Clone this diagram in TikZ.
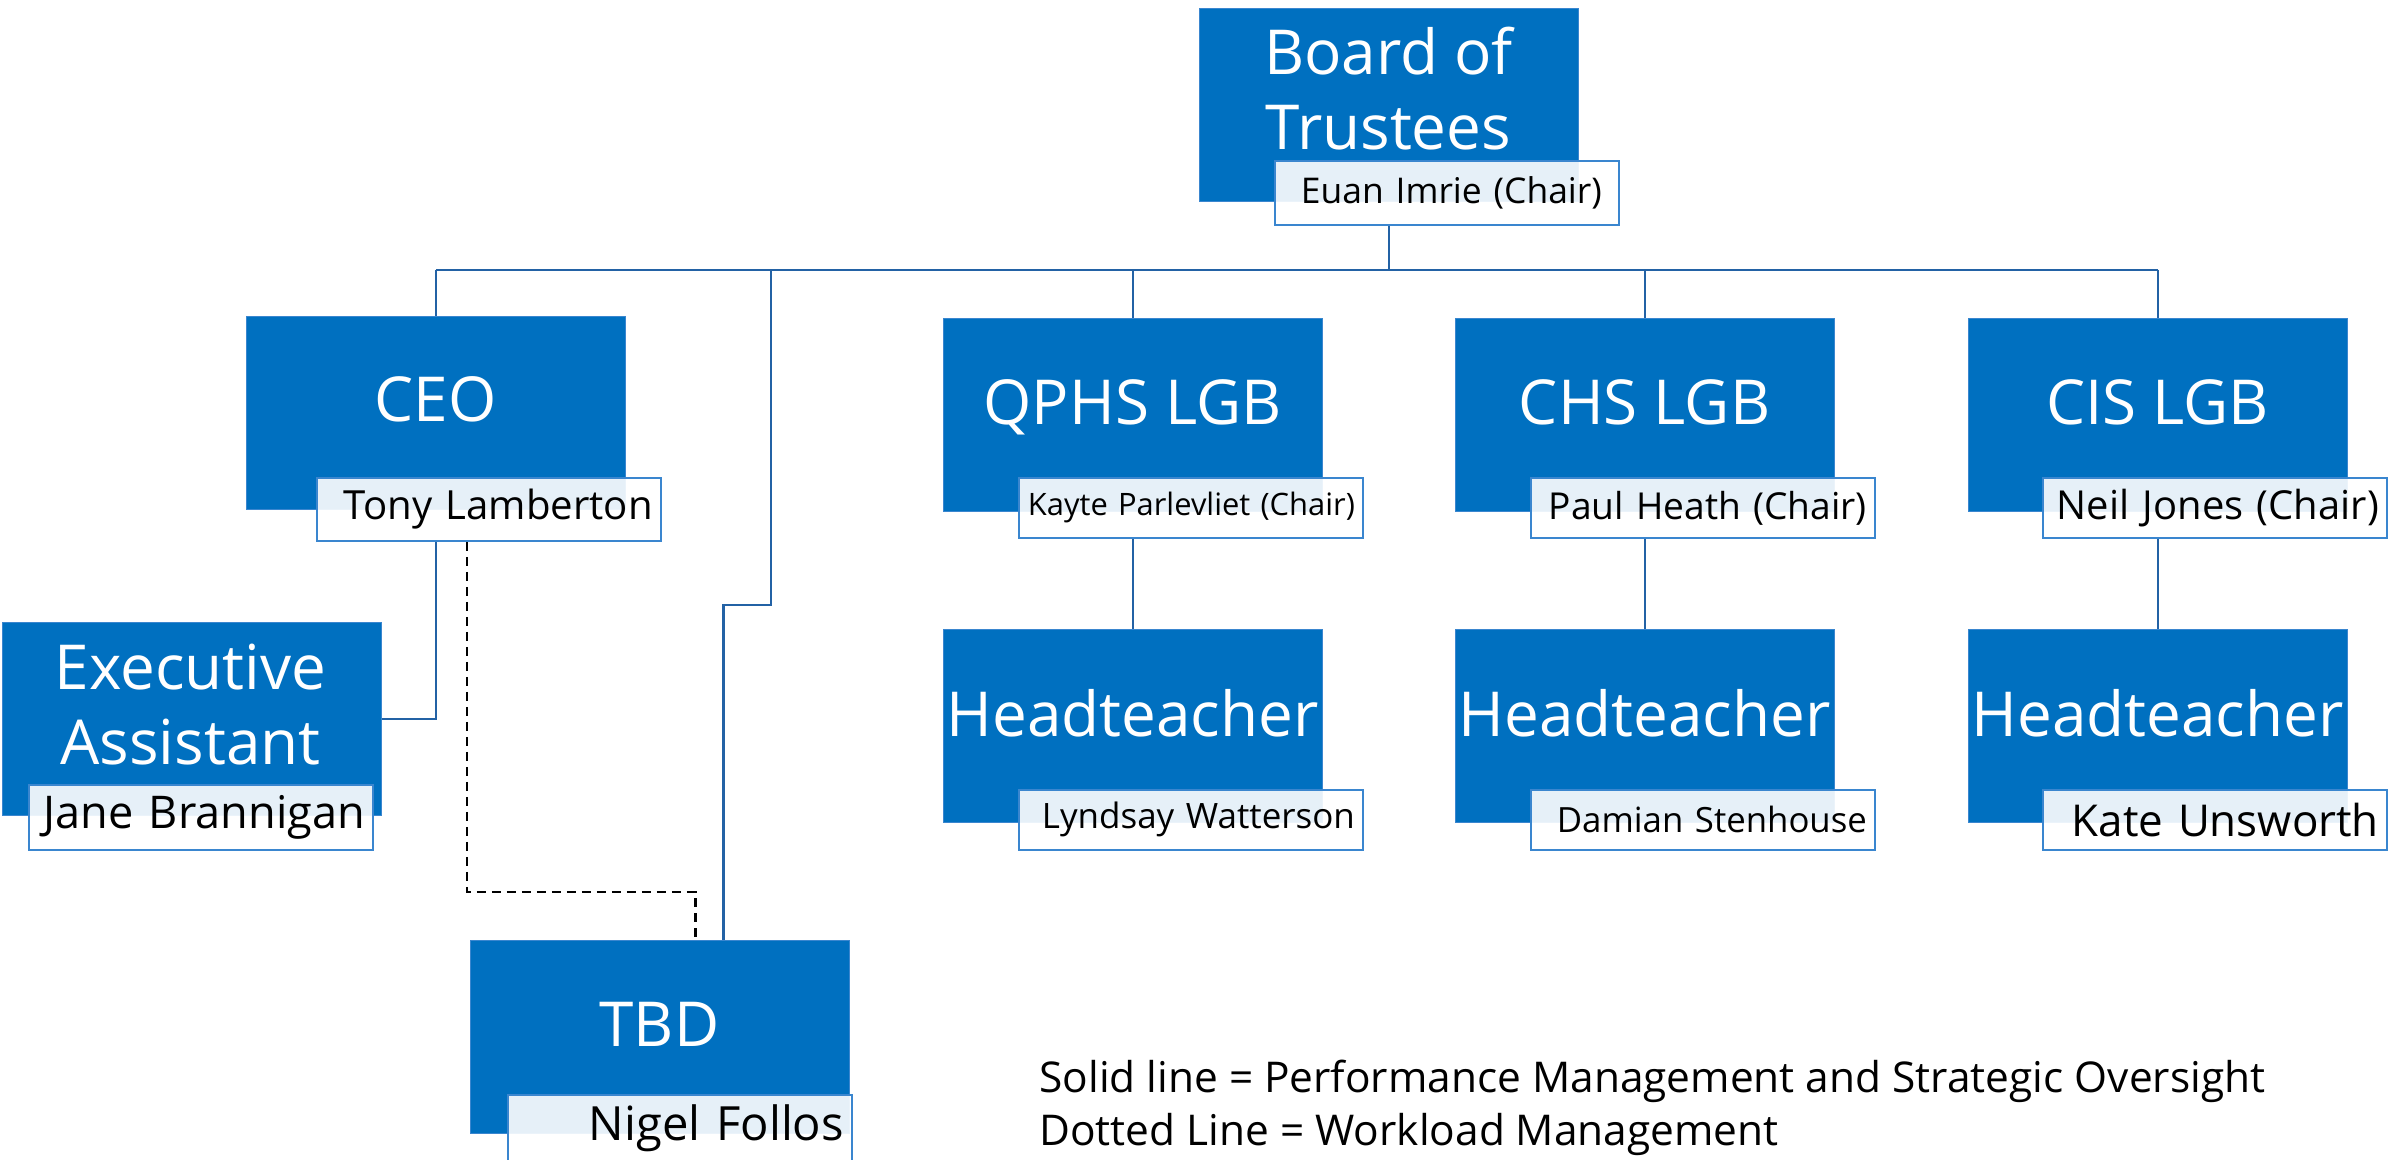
\documentclass[tikz,border=0pt]{standalone}
\usepackage{fontspec}
\setmainfont{Open Sans}
\usepackage{graphicx}
\usetikzlibrary{calc}
\pgfdeclarelayer{bg}
\pgfsetlayers{bg,main}
\definecolor{boxblue}{HTML}{0070C0}
\definecolor{edgeblue}{HTML}{3A86CF}
\definecolor{lineblue}{HTML}{2362A5}
\tikzset{
  rolebox/.style={draw=edgeblue, line width=0.4pt, fill=boxblue, anchor=north west,
    minimum width=189.5pt, minimum height=96.5pt, inner sep=0pt},
  roletitle/.style={text=white, font=\fontsize{31}{37.5}\selectfont, inner sep=0pt, align=center},
  namebox/.style={draw=edgeblue, line width=0.9pt, fill=white, fill opacity=0.9, text opacity=1,
    anchor=north west, text width=164pt, inner xsep=4pt, inner ysep=0pt, minimum height=#1,
    align=right, text=black},
  conn/.style={draw=lineblue, line width=1.1pt},
  dashconn/.style={draw=black, line width=1.2pt, dash pattern=on 4.5pt off 3pt},
  legendtext/.style={anchor=base west, inner sep=0pt, font=\fontsize{21.2}{29}\selectfont, text=black},
}
\begin{document}
\begin{tikzpicture}[x=0.5pt,y=-0.5pt]
\useasboundingbox (0,0) rectangle (2407,1160);

% boxes
\node[rolebox] (board) at (1199,8) {};
\node[rolebox] (ceo) at (246,316) {};
\node[rolebox] (qphs) at (943,318) {};
\node[rolebox] (chs) at (1455,318) {};
\node[rolebox] (cis) at (1968,318) {};
\node[rolebox] (ht1) at (943,629) {};
\node[rolebox] (ht2) at (1455,629) {};
\node[rolebox] (ht3) at (1968,629) {};
\node[rolebox] (ea) at (2,622) {};
\node[rolebox] (tbd) at (470,940) {};

% titles
\node[roletitle, anchor=center] (boardT) at (1388.5,88.5) {Board of\\Trustees};
\node[roletitle, anchor=base] (ceoT) at (435.5,422) {CEO};
\node[roletitle, anchor=base] (qphsT) at (1132.5,424) {QPHS LGB};
\node[roletitle, anchor=base] (chsT) at (1644.5,424) {CHS LGB};
\node[roletitle, anchor=base] (cisT) at (2157.5,424) {CIS LGB};
\node[roletitle, anchor=base] (ht1T) at (1132.5,736) {Headteacher};
\node[roletitle, anchor=base] (ht2T) at (1644.5,736) {Headteacher};
\node[roletitle, anchor=base] (ht3T) at (2157.5,736) {Headteacher};
\node[roletitle, anchor=center] (eaT) at (190.5,705) {Executive\\Assistant};
\node[roletitle, anchor=base] (tbdT) at (659.5,1046) {TBD};

% name labels
\node[namebox=32pt] (boardL) at (1274,160) {\resizebox{150.5pt}{!}{Euan Imrie (Chair)}\hspace*{4.5pt}};
\node[namebox=31.5pt] (ceoL) at (316,477) {\resizebox{154.5pt}{!}{Tony Lamberton}};
\node[namebox=30pt] (qphsL) at (1018,477) {\resizebox{163.5pt}{!}{Kayte Parlevliet (Chair)}};
\node[namebox=30pt] (chsL) at (1530,477) {\resizebox{159pt}{!}{Paul Heath (Chair)}};
\node[namebox=30pt] (cisL) at (2042,477) {\resizebox{161pt}{!}{Neil Jones (Chair)}};
\node[namebox=30pt] (ht1L) at (1018,789) {\resizebox{156.5pt}{!}{Lyndsay Watterson}};
\node[namebox=30pt] (ht2L) at (1530,789) {\resizebox{155pt}{!}{Damian Stenhouse}};
\node[namebox=30pt] (ht3L) at (2042,789) {\resizebox{153.5pt}{!}{Kate Unsworth}};
\node[namebox=32.5pt] (eaL) at (28,784) {\resizebox{160.5pt}{!}{Jane Brannigan}};
\node[namebox=33pt] (tbdL) at (507,1094) {\resizebox{127.5pt}{!}{Nigel Follos}};

% legend
\node[legendtext] (leg1) at (1039,1092) {Solid line = Performance Management and Strategic Oversight};
\node[legendtext] (leg2) at (1039,1145) {Dotted Line = Workload Management};

% connectors
\begin{pgfonlayer}{bg}
\coordinate (bus) at (0,270);
\coordinate (tbdjog) at (771,605);
\coordinate (dashjog) at (467,892);
\draw[conn] (board.south |- boardL.south) -- (board.south |- bus);
\draw[conn] (ceo.north |- bus) -- (cis.north |- bus);
\foreach \n in {ceo,qphs,chs,cis} \draw[conn] (\n.north |- bus) -- (\n.north);
\draw[conn] (tbdjog |- bus) -- (tbdjog) -| ($(tbd.north)+(63.5,0)$);
\draw[conn] (ceo.south |- ceoL.south) -- (ceo.south |- ea.east) -- (ea.east);
\draw[dashconn] (dashjog |- ceoL.south) -- (dashjog) -| ($(tbd.north)+(35.5,0)$);
\draw[conn] (qphs.south |- qphsL.south) -- (ht1.north);
\draw[conn] (chs.south |- chsL.south) -- (ht2.north);
\draw[conn] (cis.south |- cisL.south) -- (ht3.north);
\end{pgfonlayer}
\end{tikzpicture}
\end{document}
